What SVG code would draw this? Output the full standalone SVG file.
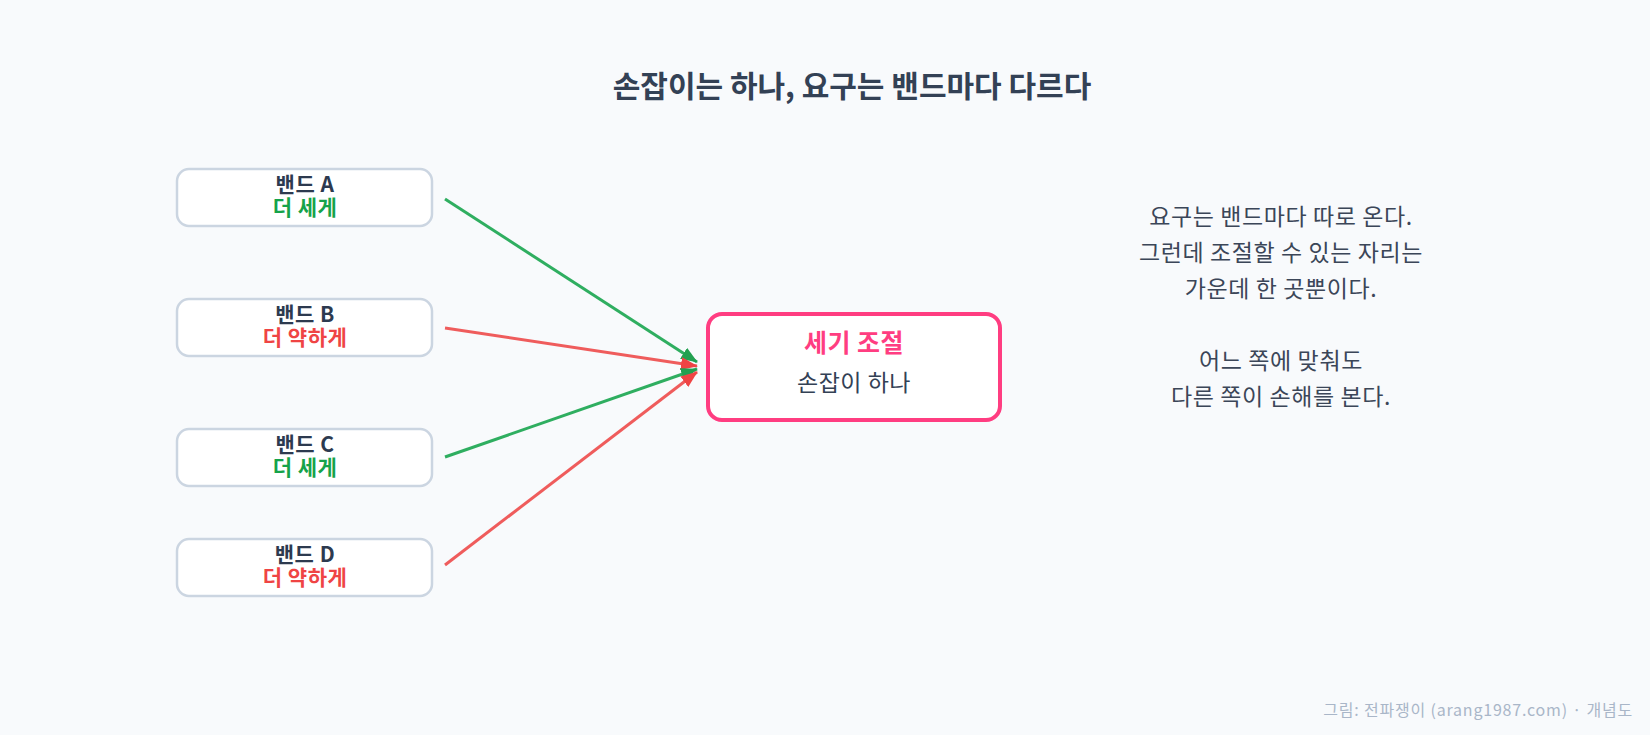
<svg xmlns="http://www.w3.org/2000/svg" width="1650" height="735" viewBox="0 0 1650 735">
<style>
.bg{fill:#f8fafc}
.band{fill:#ffffff;stroke:#cbd5e1;stroke-width:2.5}
.t{font-family:"Noto Sans CJK KR","Noto Sans",sans-serif;text-anchor:middle}
.bn{font-size:21px;font-weight:700;fill:#2d3a4f;letter-spacing:0.5px}
.g{font-size:21px;font-weight:700;fill:#16a34a;letter-spacing:0.5px}
.r{font-size:21px;font-weight:700;fill:#ef4444;letter-spacing:0.5px}
.title{font-size:30px;font-weight:700;fill:#334155}
.note{font-size:23px;fill:#3b4658;letter-spacing:0.6px}
.foot{font-size:16px;fill:#a9b6c8;text-anchor:end;letter-spacing:0.8px}
.lg{stroke:#2fae60;stroke-width:3;fill:none}
.lr{stroke:#ef5c5c;stroke-width:3;fill:none}
</style>
<defs>
<marker id="ag" viewBox="0 0 17 13" refX="16" refY="6.5" markerWidth="17" markerHeight="13" markerUnits="userSpaceOnUse" orient="auto"><path d="M0,0 L17,6.5 L0,13 Z" fill="#22a050"/></marker>
<marker id="ar" viewBox="0 0 17 13" refX="16" refY="6.5" markerWidth="17" markerHeight="13" markerUnits="userSpaceOnUse" orient="auto"><path d="M0,0 L17,6.5 L0,13 Z" fill="#ef4444"/></marker>
</defs>
<rect class="bg" x="0" y="0" width="1650" height="735"/>
<text class="t title" x="852" y="97">손잡이는 하나, 요구는 밴드마다 다르다</text>
<g id="connectors">
<line class="lg" x1="445" y1="199" x2="697" y2="362" marker-end="url(#ag)"/>
<line class="lr" x1="445" y1="328" x2="697" y2="366" marker-end="url(#ar)"/>
<line class="lg" x1="445" y1="457" x2="697" y2="369" marker-end="url(#ag)"/>
<line class="lr" x1="445" y1="565" x2="697" y2="372" marker-end="url(#ar)"/>
</g>
<g id="bandA">
<rect class="band" x="177" y="169" width="255" height="57" rx="12"/>
<text class="t bn" x="305" y="192">밴드 A</text>
<text class="t g" x="305" y="215">더 세게</text>
</g>
<g id="bandB">
<rect class="band" x="177" y="299" width="255" height="57" rx="12"/>
<text class="t bn" x="305" y="322">밴드 B</text>
<text class="t r" x="305" y="345">더 약하게</text>
</g>
<g id="bandC">
<rect class="band" x="177" y="429" width="255" height="57" rx="12"/>
<text class="t bn" x="305" y="452">밴드 C</text>
<text class="t g" x="305" y="475">더 세게</text>
</g>
<g id="bandD">
<rect class="band" x="177" y="539" width="255" height="57" rx="12"/>
<text class="t bn" x="305" y="562">밴드 D</text>
<text class="t r" x="305" y="585">더 약하게</text>
</g>
<g id="control">
<rect x="708" y="314" width="292" height="106" rx="14" fill="#ffffff" stroke="#ff3d81" stroke-width="4"/>
<text class="t" x="854" y="352" font-size="25" font-weight="700" fill="#ff3d81" letter-spacing="0.5">세기 조절</text>
<text class="t" x="854" y="391" font-size="23" fill="#334155" letter-spacing="0.5">손잡이 하나</text>
</g>
<g id="note">
<text class="t note" x="1281" y="225">요구는 밴드마다 따로 온다.</text>
<text class="t note" x="1281" y="261">그런데 조절할 수 있는 자리는</text>
<text class="t note" x="1281" y="297">가운데 한 곳뿐이다.</text>
<text class="t note" x="1281" y="369">어느 쪽에 맞춰도</text>
<text class="t note" x="1281" y="405">다른 쪽이 손해를 본다.</text>
</g>
<text class="t foot" x="1633" y="716">그림: 전파쟁이 (arang1987.com) · 개념도</text>
</svg>
